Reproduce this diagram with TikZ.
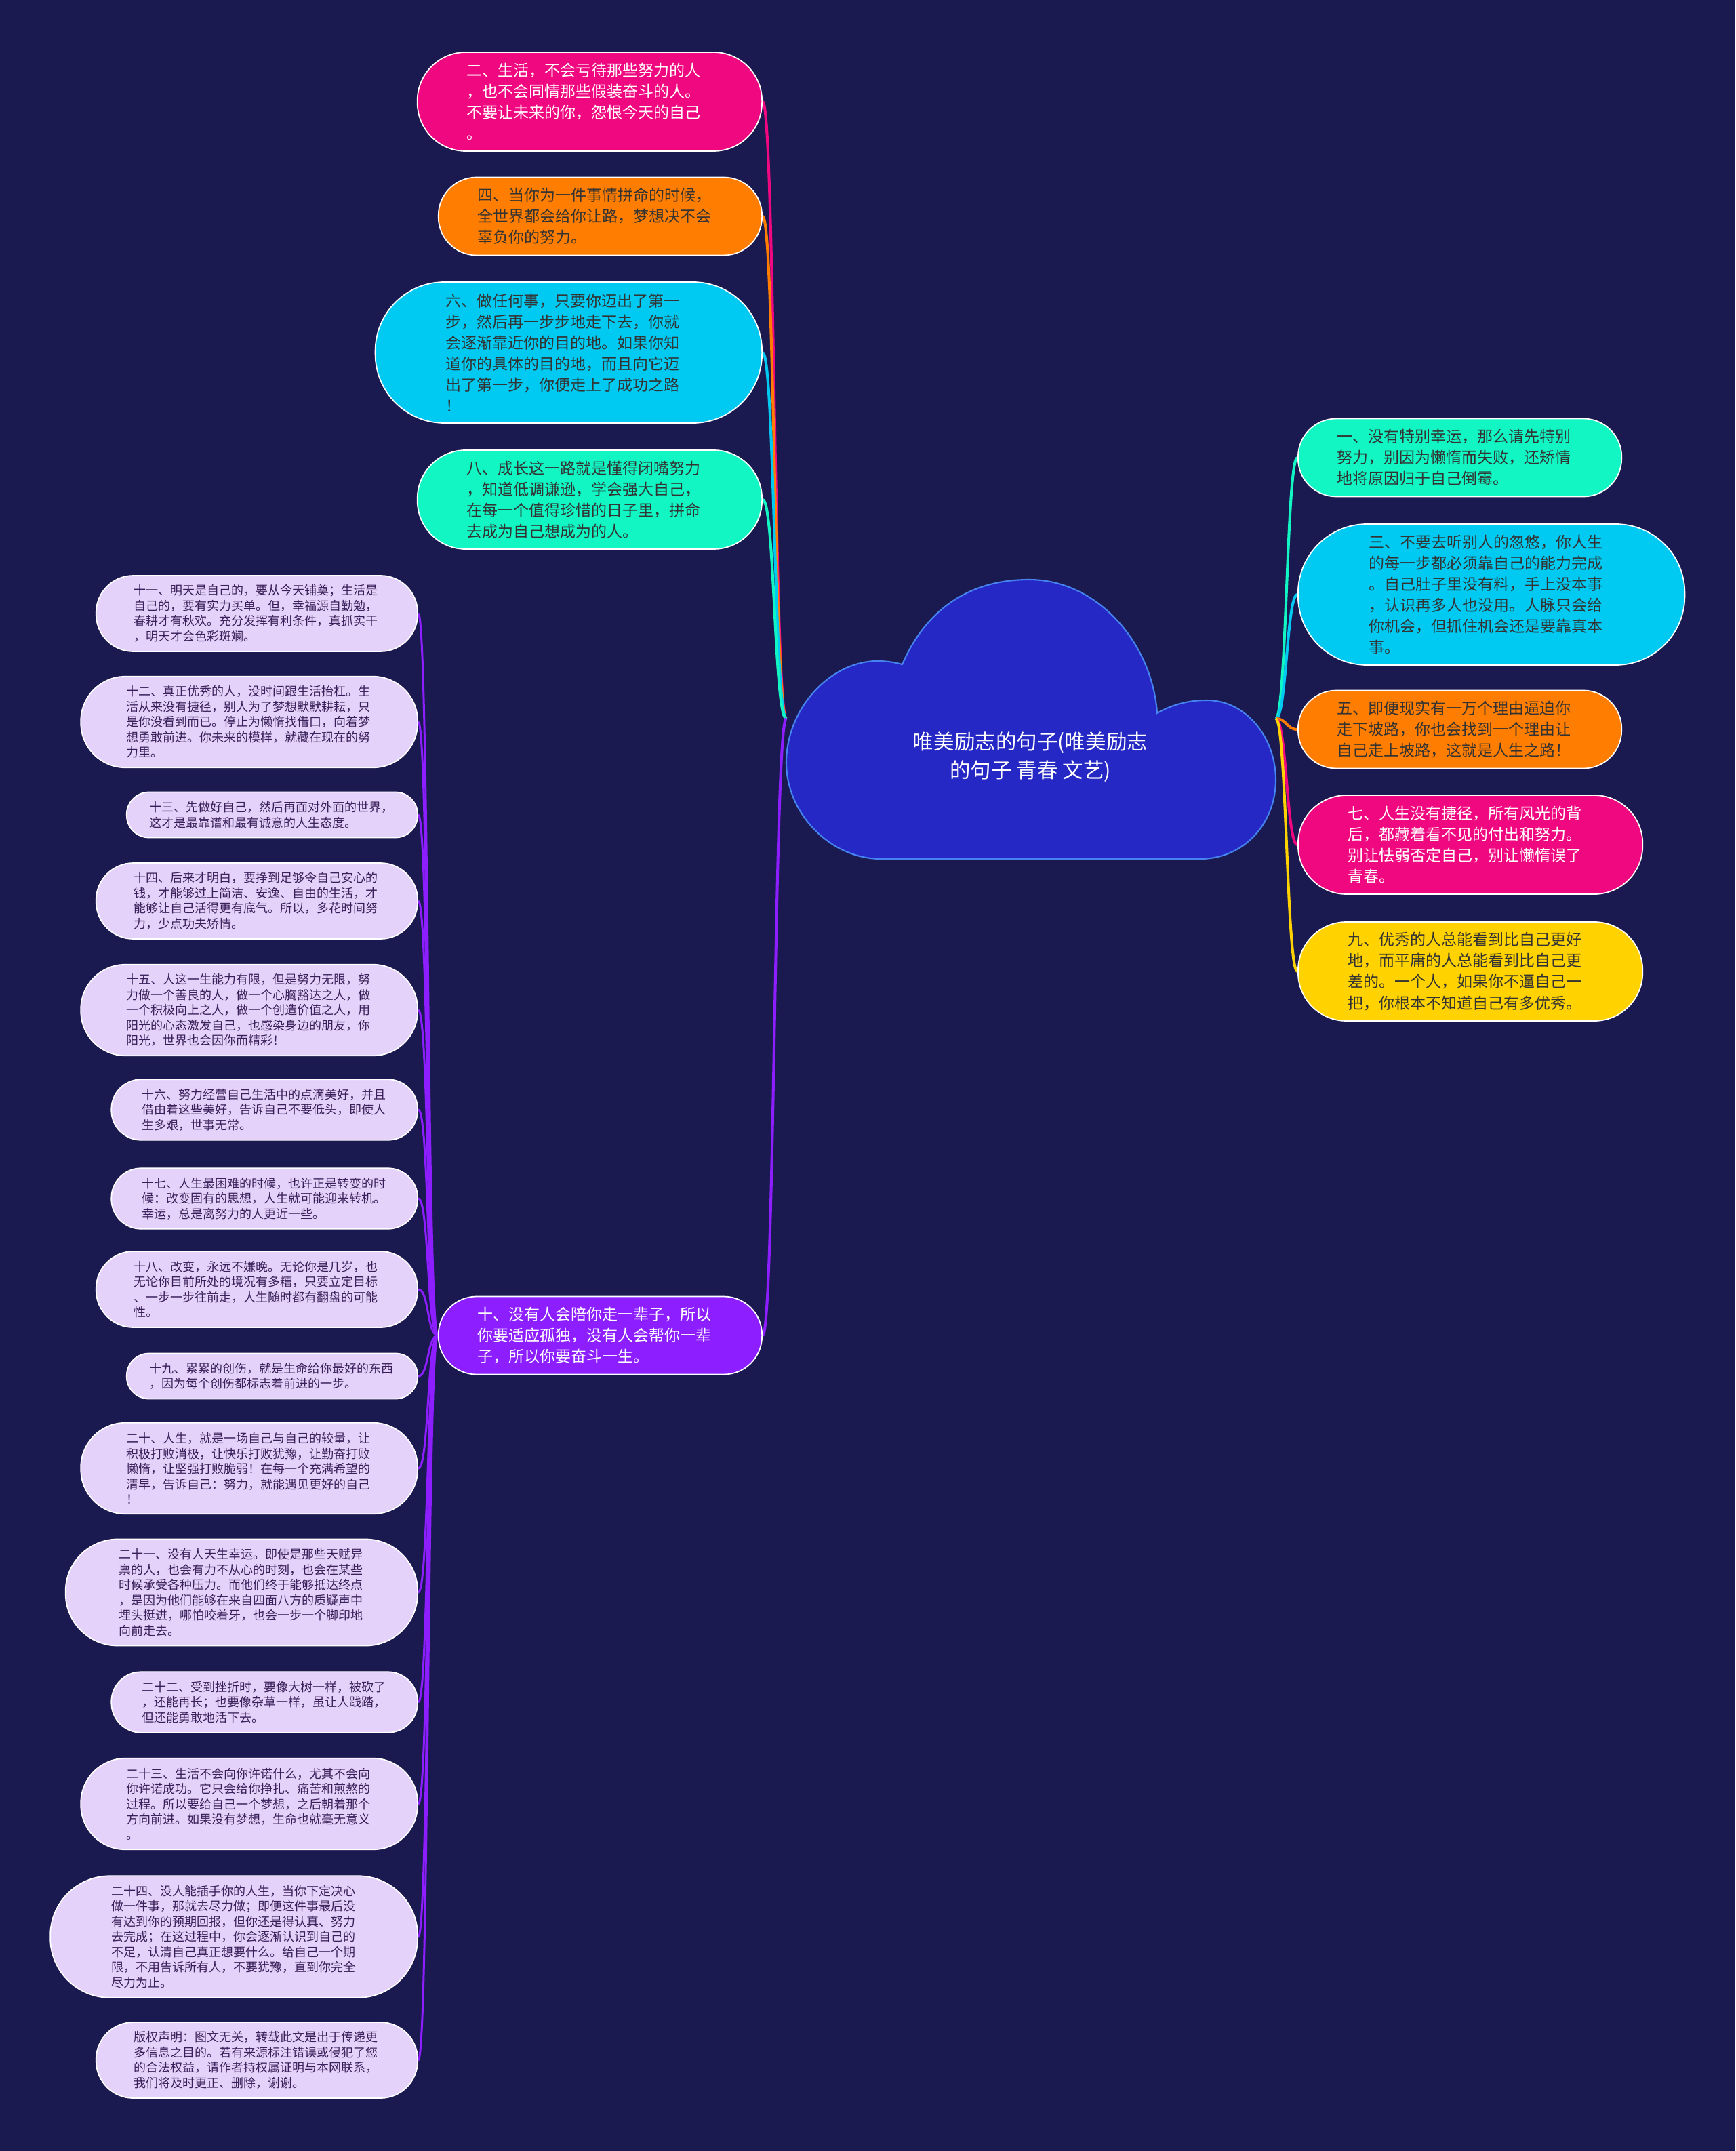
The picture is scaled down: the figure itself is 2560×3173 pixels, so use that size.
\documentclass[tikz,border=0pt]{standalone}
\usepackage{fontspec}
\newfontfamily\cjk{Noto Sans CJK SC}
\usetikzlibrary{backgrounds}
\definecolor{MapaFundo}{RGB}{27,26,80}
\definecolor{MapaNuvem}{RGB}{37,40,196}
\definecolor{MapaNuvemBorda}{RGB}{70,130,240}
\definecolor{MapaRosa}{RGB}{240,8,128}
\definecolor{MapaLaranja}{RGB}{255,125,0}
\definecolor{MapaCiano}{RGB}{0,202,242}
\definecolor{MapaMenta}{RGB}{18,246,196}
\definecolor{MapaAmarelo}{RGB}{255,210,0}
\definecolor{MapaRoxo}{RGB}{140,30,255}
\definecolor{MapaLilas}{RGB}{229,210,250}
\definecolor{MapaTexto}{RGB}{51,51,51}
\definecolor{MapaTextoLilas}{RGB}{58,32,90}
\tikzset{
  % #1 = numero de linhas do texto
  ramo/.style={draw=white, line width=0.5pt, text width=3.62cm, inner ysep=0pt, align=left,
               text=MapaTexto, font=\cjk\fontsize{6.54}{8.82}\selectfont,
               minimum height={(31*#1+22)*0.01cm}, inner xsep={(31*#1+22)*0.005cm},
               rounded corners={(31*#1+22)*0.0049cm}},
  folha/.style={draw=white, line width=0.5pt, text width=3.62cm, inner ysep=0pt, align=left,
               fill=MapaLilas, text=MapaTextoLilas, font=\cjk\fontsize{5.12}{6.4}\selectfont,
               minimum height={(22.5*#1+22)*0.01cm}, inner xsep={(22.5*#1+22)*0.005cm},
               rounded corners={(22.5*#1+22)*0.0049cm}},
  liga/.style={line width=1.15pt, draw=#1},
  ligafina/.style={line width=0.85pt, draw=MapaRoxo},
}

\begin{document}
\begin{tikzpicture}[x=0.01cm, y=-0.01cm]
  \useasboundingbox (0,0) rectangle (2560,3173);

  % nuvem central
  \filldraw[fill=MapaNuvem, draw=MapaNuvemBorda, line width=0.6pt]
    (1331,980) .. controls (1370,890) and (1440,855) .. (1518,855)
    .. controls (1620,855) and (1700,950) .. (1707,1052)
    .. controls (1728,1040) and (1752,1033) .. (1780,1033)
    .. controls (1840,1033) and (1882,1090) .. (1882,1150)
    .. controls (1882,1215) and (1835,1267) .. (1770,1267)
    -- (1300,1267)
    .. controls (1225,1267) and (1160,1200) .. (1160,1125)
    .. controls (1160,1045) and (1225,975) .. (1295,975)
    .. controls (1308,975) and (1320,977) .. (1331,980) -- cycle;
  \node[text=white, align=center, font=\cjk\fontsize{8.68}{11.95}\selectfont] (raiz) at (1520,1117)
    {唯美励志的句子(唯美励志\\的句子 青春 文艺)};
  \coordinate (raizE) at (1160,1060);
  \coordinate (raizD) at (1882,1060);

  % ramos da esquerda
  \node[ramo=4, fill=MapaRosa, text=white, anchor=east] (r2) at (1125,150)
    {二、生活，不会亏待那些努力的人\\，也不会同情那些假装奋斗的人。\\不要让未来的你，怨恨今天的自己\\。};
  \node[ramo=3, fill=MapaLaranja, anchor=east] (r4) at (1125,319)
    {四、当你为一件事情拼命的时候，\\全世界都会给你让路，梦想决不会\\辜负你的努力。};
  \node[ramo=6, fill=MapaCiano, anchor=east] (r6) at (1125,520)
    {六、做任何事，只要你迈出了第一\\步，然后再一步步地走下去，你就\\会逐渐靠近你的目的地。如果你知\\道你的具体的目的地，而且向它迈\\出了第一步，你便走上了成功之路\\！};
  \node[ramo=4, fill=MapaMenta, anchor=east] (r8) at (1125,737)
    {八、成长这一路就是懂得闭嘴努力\\，知道低调谦逊，学会强大自己，\\在每一个值得珍惜的日子里，拼命\\去成为自己想成为的人。};
  \node[ramo=3, fill=MapaRoxo, text=white, anchor=east] (r10) at (1125,1970)
    {十、没有人会陪你走一辈子，所以\\你要适应孤独，没有人会帮你一辈\\子，所以你要奋斗一生。};

  % ramos da direita
  \node[ramo=3, fill=MapaMenta, anchor=west] (r1) at (1914,675)
    {一、没有特别幸运，那么请先特别\\努力，别因为懒惰而失败，还矫情\\地将原因归于自己倒霉。};
  \node[ramo=6, fill=MapaCiano, anchor=west] (r3) at (1914,877)
    {三、不要去听别人的忽悠，你人生\\的每一步都必须靠自己的能力完成\\。自己肚子里没有料，手上没本事\\，认识再多人也没用。人脉只会给\\你机会，但抓住机会还是要靠真本\\事。};
  \node[ramo=3, fill=MapaLaranja, anchor=west] (r5) at (1914,1076)
    {五、即便现实有一万个理由逼迫你\\走下坡路，你也会找到一个理由让\\自己走上坡路，这就是人生之路！};
  \node[ramo=4, fill=MapaRosa, text=white, anchor=west] (r7) at (1914,1246)
    {七、人生没有捷径，所有风光的背\\后，都藏着看不见的付出和努力。\\别让怯弱否定自己，别让懒惰误了\\青春。};
  \node[ramo=4, fill=MapaAmarelo, anchor=west] (r9) at (1914,1433)
    {九、优秀的人总能看到比自己更好\\地，而平庸的人总能看到比自己更\\差的。一个人，如果你不逼自己一\\把，你根本不知道自己有多优秀。};

  % folhas do ramo dez
  \node[folha=4, anchor=east] (f11) at (617,905)
    {十一、明天是自己的，要从今天铺奠；生活是\\自己的，要有实力买单。但，幸福源自勤勉，\\春耕才有秋欢。充分发挥有利条件，真抓实干\\，明天才会色彩斑斓。};
  \node[folha=5, anchor=east] (f12) at (617,1065)
    {十二、真正优秀的人，没时间跟生活抬杠。生\\活从来没有捷径，别人为了梦想默默耕耘，只\\是你没看到而已。停止为懒惰找借口，向着梦\\想勇敢前进。你未来的模样，就藏在现在的努\\力里。};
  \node[folha=2, anchor=east] (f13) at (617,1202)
    {十三、先做好自己，然后再面对外面的世界，\\这才是最靠谱和最有诚意的人生态度。};
  \node[folha=4, anchor=east] (f14) at (617,1329)
    {十四、后来才明白，要挣到足够令自己安心的\\钱，才能够过上简洁、安逸、自由的生活，才\\能够让自己活得更有底气。所以，多花时间努\\力，少点功夫矫情。};
  \node[folha=5, anchor=east] (f15) at (617,1490)
    {十五、人这一生能力有限，但是努力无限，努\\力做一个善良的人，做一个心胸豁达之人，做\\一个积极向上之人，做一个创造价值之人，用\\阳光的心态激发自己，也感染身边的朋友，你\\阳光，世界也会因你而精彩！};
  \node[folha=3, anchor=east] (f16) at (617,1637)
    {十六、努力经营自己生活中的点滴美好，并且\\借由着这些美好，告诉自己不要低头，即使人\\生多艰，世事无常。};
  \node[folha=3, anchor=east] (f17) at (617,1768)
    {十七、人生最困难的时候，也许正是转变的时\\候：改变固有的思想，人生就可能迎来转机。\\幸运，总是离努力的人更近一些。};
  \node[folha=4, anchor=east] (f18) at (617,1902)
    {十八、改变，永远不嫌晚。无论你是几岁，也\\无论你目前所处的境况有多糟，只要立定目标\\、一步一步往前走，人生随时都有翻盘的可能\\性。};
  \node[folha=2, anchor=east] (f19) at (617,2030)
    {十九、累累的创伤，就是生命给你最好的东西\\，因为每个创伤都标志着前进的一步。};
  \node[folha=5, anchor=east] (f20) at (617,2166)
    {二十、人生，就是一场自己与自己的较量，让\\积极打败消极，让快乐打败犹豫，让勤奋打败\\懒惰，让坚强打败脆弱！在每一个充满希望的\\清早，告诉自己：努力，就能遇见更好的自己\\！};
  \node[folha=6, anchor=east] (f21) at (617,2349)
    {二十一、没有人天生幸运。即使是那些天赋异\\禀的人，也会有力不从心的时刻，也会在某些\\时候承受各种压力。而他们终于能够抵达终点\\，是因为他们能够在来自四面八方的质疑声中\\埋头挺进，哪怕咬着牙，也会一步一个脚印地\\向前走去。};
  \node[folha=3, anchor=east] (f22) at (617,2511)
    {二十二、受到挫折时，要像大树一样，被砍了\\，还能再长；也要像杂草一样，虽让人践踏，\\但还能勇敢地活下去。};
  \node[folha=5, anchor=east] (f23) at (617,2661)
    {二十三、生活不会向你许诺什么，尤其不会向\\你许诺成功。它只会给你挣扎、痛苦和煎熬的\\过程。所以要给自己一个梦想，之后朝着那个\\方向前进。如果没有梦想，生命也就毫无意义\\。};
  \node[folha=7, anchor=east] (f24) at (617,2857)
    {二十四、没人能插手你的人生，当你下定决心\\做一件事，那就去尽力做；即便这件事最后没\\有达到你的预期回报，但你还是得认真、努力\\去完成；在这过程中，你会逐渐认识到自己的\\不足，认清自己真正想要什么。给自己一个期\\限，不用告诉所有人，不要犹豫，直到你完全\\尽力为止。};
  \node[folha=4, anchor=east] (f25) at (617,3039)
    {版权声明：图文无关，转载此文是出于传递更\\多信息之目的。若有来源标注错误或侵犯了您\\的合法权益，请作者持权属证明与本网联系，\\我们将及时更正、删除，谢谢。};

  % fundo e ligacoes
  \begin{scope}[on background layer]
    \fill[MapaFundo] (0,0) rectangle (2560,3173);
    \foreach \no/\cor in {r2/MapaRosa, r4/MapaLaranja, r6/MapaCiano, r8/MapaMenta, r10/MapaRoxo}{
      \draw[liga=\cor] (raizE) .. controls +(-18,0) and +(18,0) .. (\no.east);
    }
    \foreach \no/\cor in {r1/MapaMenta, r3/MapaCiano, r5/MapaLaranja, r7/MapaRosa, r9/MapaAmarelo}{
      \draw[liga=\cor] (raizD) .. controls +(16,0) and +(-16,0) .. (\no.west);
    }
    \foreach \no in {f11,f12,f13,f14,f15,f16,f17,f18,f19,f20,f21,f22,f23,f24,f25}{
      \draw[ligafina] (r10.west) .. controls +(-16,0) and +(16,0) .. (\no.east);
    }
  \end{scope}
\end{tikzpicture}
\end{document}
